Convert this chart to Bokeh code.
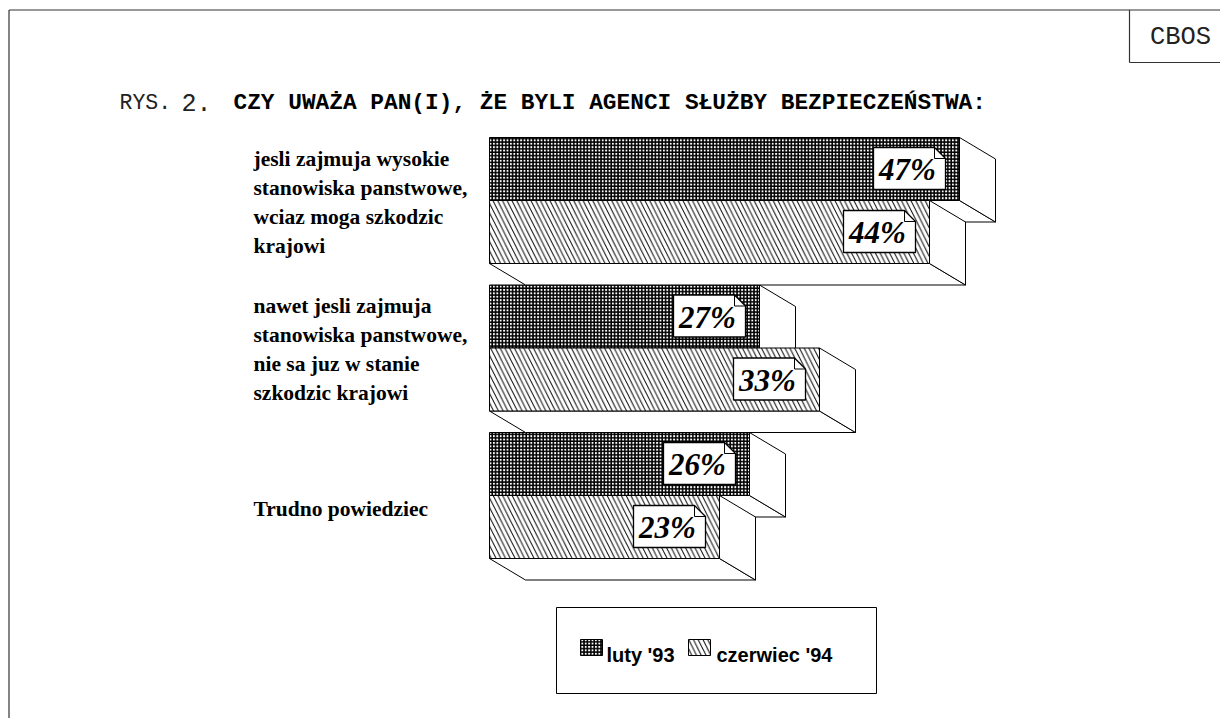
from bokeh.plotting import figure
from bokeh.models import Range1d
from bokeh.core.properties import value
from bokeh.embed import file_html
from bokeh.resources import INLINE

# ---------------- data ----------------
categories = [
    "jesli zajmuja wysokie\nstanowiska panstwowe,\nwciaz moga szkodzic\nkrajowi",
    "nawet jesli zajmuja\nstanowiska panstwowe,\nnie sa juz w stanie\nszkodzic krajowi",
    "Trudno powiedziec",
]
series_names = ["luty '93", "czerwiec '94"]
luty_93 = [47, 27, 26]
czerwiec_94 = [44, 33, 23]
title_a = "RYS."
title_b = "2."
title_main = "CZY UWAŻA PAN(I), ŻE BYLI AGENCI SŁUŻBY BEZPIECZEŃSTWA:"
source_label = "CBOS"

# ---------------- layout ----------------
W, H = 1220, 718
X0 = 489.0      # px of value 0
PPU = 10.0      # px per percent


def X(px):
    return (px - X0) / PPU


def Y(py):
    return py


p = figure(width=W, height=H, x_range=Range1d(X(0), X(W)),
           y_range=Range1d(H, 0), output_backend="svg", toolbar_location=None,
           x_axis_type=None, y_axis_type=None, min_border=0)
p.grid.visible = False
p.outline_line_color = None
p.background_fill_color = "white"
p.border_fill_color = "white"

GROUP_TOP = 137.0
PITCH = 147.5
BAR_H = 63.0
DXU = 3.6       # depth in data units (36 px)
DY = 21.5

series_vals = [luty_93, czerwiec_94]
hatches = [dict(hatch_pattern="+", hatch_scale=3.4, hatch_weight=1.7),
           dict(hatch_pattern="\\", hatch_scale=9.5, hatch_weight=1.0)]

for j, vals in enumerate(series_vals):
    bx, by, rx, ry = [], [], [], []
    left, right, top, bottom = [], [], [], []
    for i, v in enumerate(vals):
        t = Y(GROUP_TOP + i * PITCH + j * BAR_H)
        b = t + BAR_H
        bx.append([0, v, v + DXU, DXU])
        by.append([b, b, b + DY, b + DY])
        rx.append([v, v + DXU, v + DXU, v])
        ry.append([t, t + DY, b + DY, b])
        left.append(0); right.append(v); top.append(t); bottom.append(b)
    p.patches(bx, by, fill_color="white", line_color="black", line_width=1)
    p.patches(rx, ry, fill_color="white", line_color="black", line_width=1)
    p.quad(left=left, right=right, top=top, bottom=bottom, fill_color="white",
           line_color="black", line_width=1, hatch_color="black", **hatches[j])

# value labels (boxes with folded corner)
EAR = 11.0
for j, vals in enumerate(series_vals):
    px_, py_, fx, fy, tx, ty, tt = [], [], [], [], [], [], []
    for i, v in enumerate(vals):
        t = Y(GROUP_TOP + i * PITCH + j * BAR_H) + 10
        b = t + 42
        R = v - 1.4
        L = R - 7.2
        e = EAR / PPU
        px_.append([L, R - e, R, R, L])
        py_.append([t, t, t + EAR, b, b])
        fx.append([R - e, R - e, R])
        fy.append([t, t + EAR, t + EAR])
        tx.append((L + R) / 2 - 0.2)
        ty.append((t + b) / 2 + 1)
        tt.append(f"{v}%")
    p.patches(px_, py_, fill_color="white", line_color="black", line_width=1.3)
    p.multi_line(fx, fy, line_color="black", line_width=1)
    p.text(tx, ty, text=tt, text_font=value("Liberation Serif"),
           text_font_style="bold italic", text_font_size="31px",
           text_align="center", text_baseline="middle", text_color="black")

# category labels
label_center = [201.5, 348.5, 508.0]
LINE_H = 29.0
lx, ly, lt = [], [], []
for i, cat in enumerate(categories):
    lines = cat.split("\n")
    n = len(lines)
    for k, ln in enumerate(lines):
        lx.append(X(253))
        ly.append(Y(label_center[i] + (k - (n - 1) / 2) * LINE_H))
        lt.append(ln)
p.text(lx, ly, text=lt, text_font=value("Liberation Serif"), text_font_style="bold",
       text_font_size="21.5px", text_align="left", text_baseline="middle", text_color="black")

# title
p.text([X(119)], [Y(102)], text=[title_a], text_font=value("Liberation Mono"),
       text_font_size="21.5px", text_align="left", text_baseline="alphabetic", text_color="#222222")
p.text([X(181)], [Y(102)], text=[title_b], text_font=value("Liberation Mono"),
       text_font_size="25px", text_align="left", text_baseline="alphabetic", text_color="#222222")
p.text([X(233)], [Y(102)], text=[title_main], text_font=value("Liberation Mono"),
       text_font_style="bold", text_font_size="22.8px", text_align="left",
       text_baseline="alphabetic", text_color="black")

# frame lines and CBOS box
p.segment(x0=[X(8.5), X(8.5), X(1129), X(1129)], y0=[Y(9.5), Y(9.5), Y(9.5), Y(62)],
          x1=[X(1228), X(8.5), X(1129), X(1228)], y1=[Y(9.5), Y(726), Y(62), Y(62)],
          line_color="#333333", line_width=1.2)
p.text([X(1180)], [Y(37)], text=[source_label], text_font=value("Liberation Mono"),
       text_font_size="25.5px", text_align="center", text_baseline="middle", text_color="#222222")

# legend
p.quad(left=[X(556)], right=[X(876)], top=[Y(607)], bottom=[Y(693)],
       fill_color=None, line_color="black", line_width=1)
sw_left = [580, 688]
txt_left = [606, 716]
for j, name in enumerate(series_names):
    p.quad(left=[X(sw_left[j])], right=[X(sw_left[j] + 22)], top=[Y(639)], bottom=[Y(655)],
           fill_color="white", line_color="black", line_width=1, hatch_color="black",
           **hatches[j])
    p.text([X(txt_left[j])], [Y(654)], text=[name], text_font=value("Liberation Sans"),
           text_font_style="bold", text_font_size="20px", text_align="left",
           text_baseline="alphabetic", text_color="black")

open("out.html", "w").write(file_html(p, INLINE))
